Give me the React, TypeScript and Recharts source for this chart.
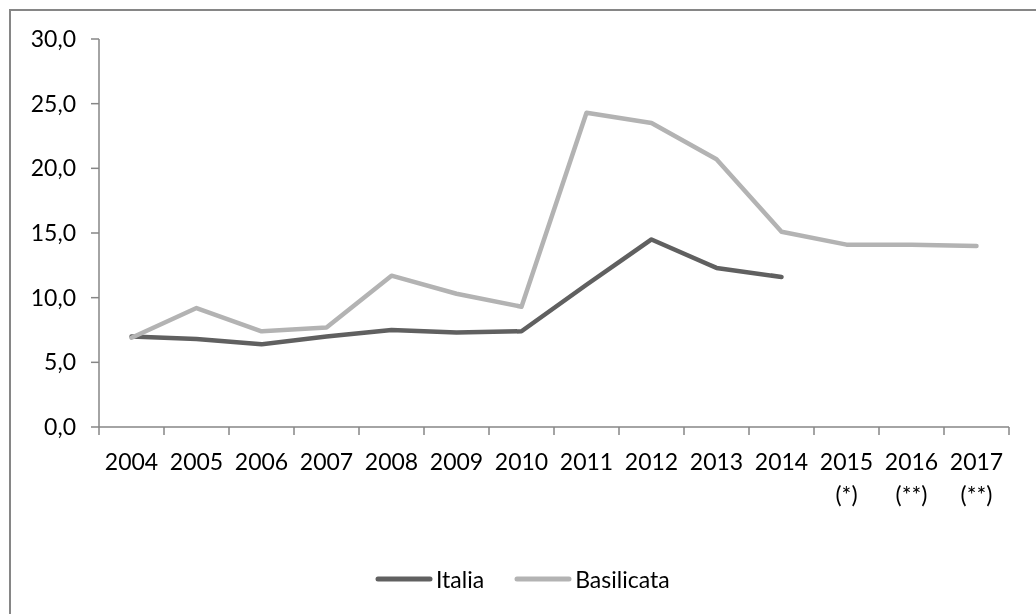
import React from "react";
import { LineChart, Line, XAxis, YAxis, Legend } from "recharts";

const years = ["2004", "2005", "2006", "2007", "2008", "2009", "2010", "2011", "2012", "2013", "2014", "2015", "2016", "2017"];
const yearNotes = ["", "", "", "", "", "", "", "", "", "", "", "(*)", "(**)", "(**)"];
const italia = [7.0, 6.8, 6.4, 7.0, 7.5, 7.3, 7.4, 11.0, 14.5, 12.3, 11.6, null, null, null];
const basilicata = [6.9, 9.2, 7.4, 7.7, 11.7, 10.3, 9.3, 24.3, 23.5, 20.7, 15.1, 14.1, 14.1, 14.0];
const yTicks = [0, 5, 10, 15, 20, 25, 30];

const ITALIA_COLOR = "#606060";
const BASILICATA_COLOR = "#b3b3b3";
const AXIS_COLOR = "#868686";
const FONT = "Lato, 'Open Sans', sans-serif";

// categories sit at i + 0.5 so the tick marks can fall between them, Excel style
const data = years.map((y, i) => ({
  x: i + 0.5,
  year: y,
  italia: italia[i],
  basilicata: basilicata[i],
}));

const xTicks: number[] = [];
for (let i = 0; i <= years.length * 2; i++) xTicks.push(i / 2);

function XTick(props: any) {
  const { x, y, payload } = props;
  const v = payload.value as number;
  if (Number.isInteger(v)) {
    return <line x1={x} x2={x} y1={y} y2={y + 8} stroke={AXIS_COLOR} strokeWidth={1.5} />;
  }
  const idx = Math.floor(v);
  return (
    <g>
      <text x={x} y={y + 43} textAnchor="middle" fontSize={23} fontFamily={FONT} fill="#000">
        {years[idx]}
      </text>
      {yearNotes[idx] && (
        <text x={x} y={y + 76} textAnchor="middle" fontSize={23} fontFamily={FONT} fill="#000">
          {yearNotes[idx]}
        </text>
      )}
    </g>
  );
}

function LegendContent() {
  const items = [
    { name: "Italia", color: ITALIA_COLOR },
    { name: "Basilicata", color: BASILICATA_COLOR },
  ];
  return (
    <div style={{ display: "flex", alignItems: "center", fontFamily: FONT, fontSize: 23, color: "#000" }}>
      {items.map((it, i) => (
        <div key={it.name} style={{ display: "flex", alignItems: "center", marginLeft: i === 0 ? 0 : 30 }}>
          <svg width={58} height={8} style={{ marginRight: 3 }}>
            <line x1={3} x2={55} y1={4} y2={4} stroke={it.color} strokeWidth={5} strokeLinecap="round" />
          </svg>
          <span>{it.name}</span>
        </div>
      ))}
    </div>
  );
}

export default function App() {
  return (
    <div style={{ position: "relative", width: 1020, height: 598 }}>
      <div
        style={{
          position: "fixed",
          left: 9,
          top: 9,
          width: 1100,
          height: 700,
          borderLeft: `2px solid ${AXIS_COLOR}`,
          borderTop: `2px solid ${AXIS_COLOR}`,
          pointerEvents: "none",
        }}
      />
      <LineChart width={1020} height={598} data={data} margin={{ top: 31, right: 19, left: 0, bottom: 51 }}>
        <XAxis
          dataKey="x"
          type="number"
          domain={[0, years.length]}
          ticks={xTicks}
          interval={0}
          tick={<XTick />}
          tickLine={false}
          tickSize={0}
          tickMargin={0}
          height={100}
          stroke={AXIS_COLOR}
          strokeWidth={1.5}
        />
        <YAxis
          domain={[0, 30]}
          ticks={yTicks}
          interval={0}
          width={91}
          tickSize={8}
          tickMargin={15}
          tickFormatter={(v: number) => v.toFixed(1).replace(".", ",")}
          tick={{ fill: "#000", fontSize: 23, fontFamily: FONT }}
          stroke={AXIS_COLOR}
          strokeWidth={1.5}
        />
        <Line
          dataKey="italia"
          stroke={ITALIA_COLOR}
          strokeWidth={4.5}
          strokeLinejoin="round"
          strokeLinecap="round"
          dot={false}
          activeDot={false}
          isAnimationActive={false}
        />
        <Line
          dataKey="basilicata"
          stroke={BASILICATA_COLOR}
          strokeWidth={4.5}
          strokeLinejoin="round"
          strokeLinecap="round"
          dot={false}
          activeDot={false}
          isAnimationActive={false}
        />
        <Legend
          content={<LegendContent />}
          wrapperStyle={{ position: "absolute", left: 367, top: 557, width: "auto" }}
        />
      </LineChart>
    </div>
  );
}
